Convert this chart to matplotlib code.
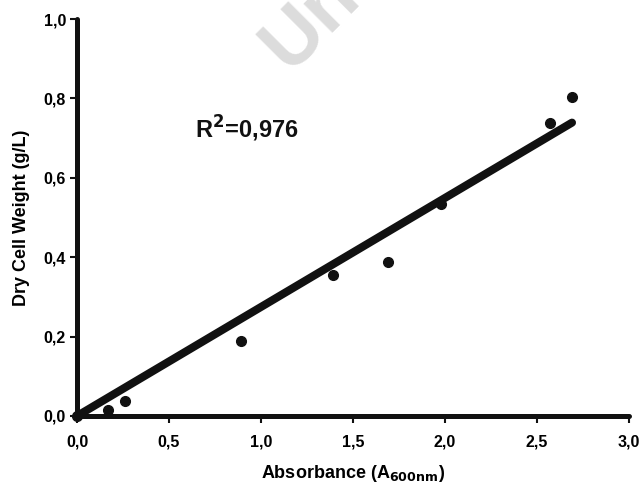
import numpy as np
import matplotlib.pyplot as plt
from matplotlib.ticker import FuncFormatter

plt.rcParams['font.family'] = ['Liberation Sans', 'DejaVu Sans']
plt.rcParams['font.weight'] = 'bold'

absorbance = [0.0, 0.17, 0.26, 0.89, 1.39, 1.69, 1.98, 2.57, 2.69]
dcw = [0.0, 0.015, 0.038, 0.19, 0.354, 0.387, 0.534, 0.737, 0.803]
r2_text = "R$^\\mathbf{2}$=0,976"

x = np.array(absorbance)
y = np.array(dcw)
slope = np.sum(x * y) / np.sum(x * x)  # fit through origin
xfit = np.array([0.0, x.max()])

fig = plt.figure(figsize=(6.43, 4.84), dpi=100)
ax = fig.add_axes([0.1198, 0.1405, 0.8585, 0.8202])

# watermark (cut off by the top edge, like the original)
fig.text(0.449, 0.851, "Un", rotation=45, rotation_mode='anchor',
         ha='left', va='baseline', fontsize=56, color='#dcdcdc', zorder=0)
ax.patch.set_alpha(0)

ax.plot(xfit, slope * xfit, color='#111111', lw=5.8, solid_capstyle='round', zorder=3, clip_on=False)
ax.plot(x, y, 'o', color='#111111', ms=7, zorder=4, clip_on=False)

ax.set_xlim(0, 3)
ax.set_ylim(0, 1)
ax.set_xticks(np.arange(0, 3.01, 0.5))
ax.set_yticks(np.arange(0, 1.01, 0.2))
fmt = FuncFormatter(lambda v, p: f"{v:.1f}".replace('.', ','))
ax.xaxis.set_major_formatter(fmt)
ax.yaxis.set_major_formatter(fmt)

for s in ['top', 'right']:
    ax.spines[s].set_visible(False)
for s in ['left', 'bottom']:
    ax.spines[s].set_linewidth(3.6)
    ax.spines[s].set_color('#111111')
    ax.spines[s].set_capstyle('round')
ax.tick_params(direction='out', length=5, width=1.5, labelsize=11.5, pad=3, color='#111111')
ax.tick_params(axis='x', pad=8)

ax.set_xlabel("Absorbance (A$_{\\mathbf{600nm}}$)", fontsize=13, fontweight='bold', labelpad=10)
ax.set_ylabel("Dry Cell Weight (g/L)", fontsize=13, fontweight='bold', labelpad=10)

ax.text(0.64, 0.70, r2_text, fontsize=17, fontweight='bold', color='#111111')

fig.savefig('out.png', dpi=100)
